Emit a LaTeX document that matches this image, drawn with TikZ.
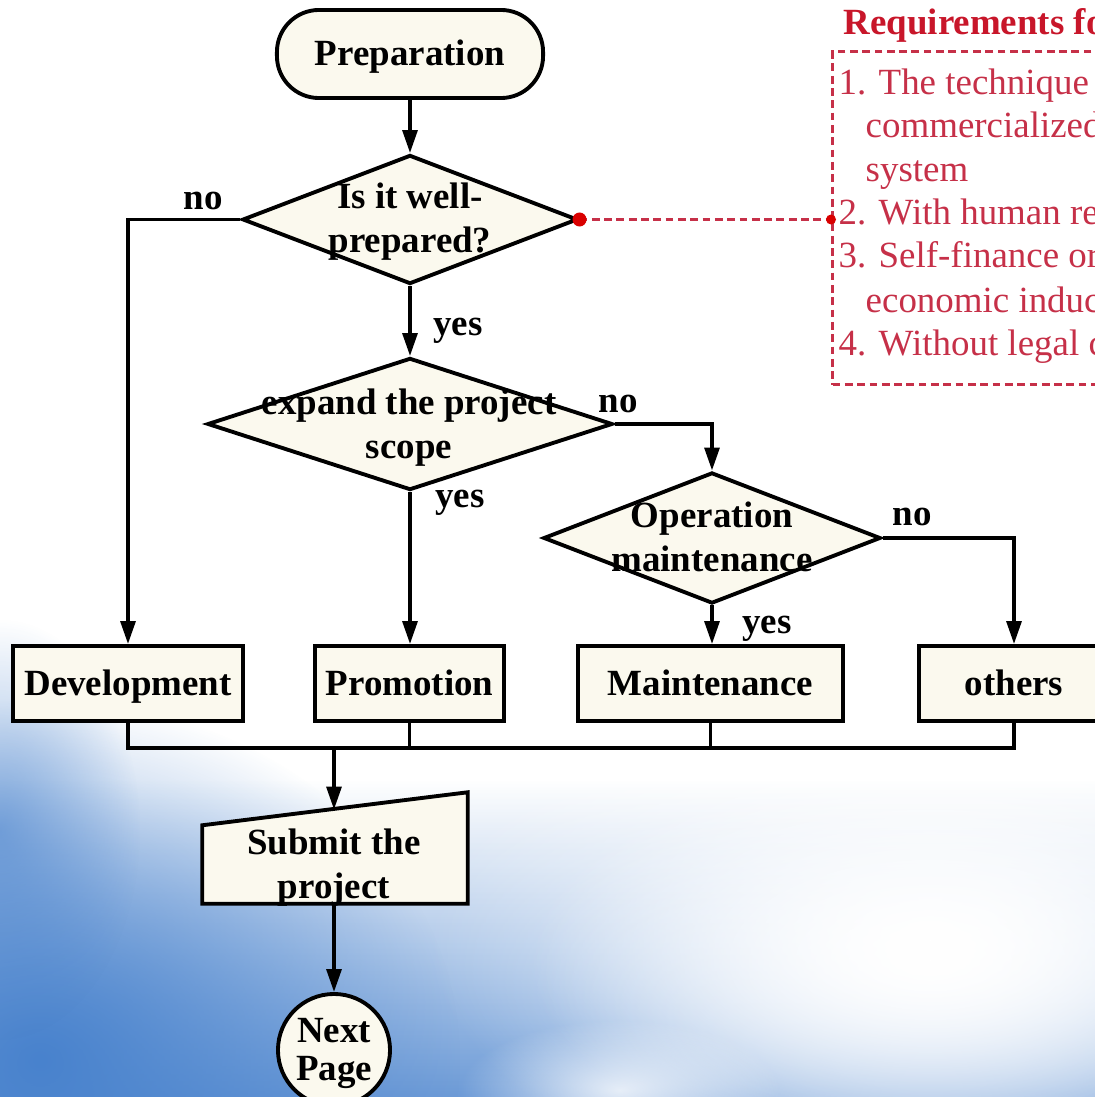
\documentclass[tikz,border=0pt]{standalone}
\usepackage{fontspec}
\setmainfont{Liberation Serif}
\usetikzlibrary{shapes.geometric,arrows.meta,calc,fadings}
\definecolor{cream}{RGB}{251,249,238}
\definecolor{redT}{RGB}{200,22,42}
\definecolor{redI}{RGB}{198,48,72}
\definecolor{skyb}{RGB}{72,130,205}
\tikzfading[name=myup, top color=transparent!100, bottom color=transparent!0]
\tikzfading[name=myrad, inner color=transparent!0, outer color=transparent!100]
\begin{document}
\begin{tikzpicture}[x=0.01cm,y=-0.01cm,
  font=\fontsize{10.5}{12.5}\selectfont\bfseries,
  ln/.style={line width=1pt, black},
  arr/.style={ln, -{Triangle[length=6.5pt,width=4.2pt]}},
  box/.style={draw, line width=1.1pt, fill=cream, minimum height=0.75cm, inner sep=0, text height=0.66em, text depth=0pt},
  dia/.style={diamond, draw, line width=1.1pt, fill=cream, inner sep=0},
  txt/.style={align=center, inner sep=0},
  lab/.style={inner sep=0},
  req/.style={anchor=base west, inner sep=0, text=redI, font=\fontsize{10.5}{12.5}\selectfont},
  reddash/.style={redI, line width=0.9pt, dash pattern=on 2.2pt off 1.3pt}
]
\useasboundingbox (0,0) rectangle (1095,1097);
\clip (0,0) rectangle (1095,1097);
% background (sky)
\fill[white] (0,0) rectangle (1095,1097);
\fill[skyb, opacity=0.8, path fading=myup] (0,780) rectangle (1095,1097);
\fill[skyb, path fading=myrad] (40,1060) ellipse [x radius=4.2cm, y radius=3.6cm];
\fill[skyb, opacity=0.6, path fading=myrad] (0,830) ellipse [x radius=1.4cm, y radius=2.1cm];
\fill[white, path fading=myrad] (930,940) ellipse [x radius=5cm, y radius=2.6cm];
\fill[white, path fading=myrad] (930,960) ellipse [x radius=4cm, y radius=2cm];
\fill[white, opacity=0.8, path fading=myrad] (620,1090) ellipse [x radius=1.6cm, y radius=0.7cm];

% nodes
\node[box, rounded corners=0.42cm, minimum width=2.66cm, minimum height=0.88cm] (prep) at (410,54) {Preparation};
\node[dia, minimum width=3.35cm, minimum height=1.29cm] (d1) at (410,219.5) {};
\node[txt] (d1t) at (410,222) {Is it well-\\prepared?};
\node[dia, minimum width=4.05cm, minimum height=1.32cm] (d2) at (410,424) {};
\node[txt] (d2t) at (409,428) {expand the project\\scope};
\node[dia, minimum width=3.37cm, minimum height=1.31cm] (d3) at (712,538) {};
\node[txt] (d3t) at (712,537) {Operation\\maintenance};

\node[box, minimum width=2.30cm] (dev) at (128,683.5) {Development};
\node[box, minimum width=1.89cm] (pro) at (409.5,683.5) {Promotion};
\node[box, minimum width=2.65cm] (mai) at (710.5,683.5) {Maintenance};
\node[box, minimum width=1.90cm] (oth) at (1014,683.5) {others};

% labels
\node[lab] (l1) at (203,201) {no};
\node[lab] (l2) at (458,331) {yes};
\node[lab] (l3) at (618,404) {no};
\node[lab] (l4) at (460,503) {yes};
\node[lab] (l5) at (912,517) {no};
\node[lab] (l6) at (767,629) {yes};

% connectors
\draw[arr] (prep) -- (d1);
\draw[arr] (d1) -- (d2);
\draw[arr] (d1.west) -| (dev.north);
\draw[arr] (d2.south) -- (d2.south |- pro.north);
\draw[arr] (d2.east) -| (d3.north);
\draw[arr] (d3.east) -| (oth.north);
\draw[arr] (d3.south) -- (d3.south |- mai.north);

\coordinate (bus) at (0,748);
\draw[ln] (dev.south) -- (dev.south |- bus) -- (oth.south |- bus) -- (oth.south);
\draw[ln] (pro.south) -- (pro.south |- bus);
\draw[ln] (mai.south) -- (mai.south |- bus);

% submit
\node[minimum width=2.64cm, minimum height=1.10cm, inner sep=0] (sub) at (335,848) {};
\draw[line width=1.1pt, fill=cream] (sub.south west) -- (sub.south east) -- (sub.north east) -- ($(sub.north west)+(0,-0.33cm)$) -- cycle;
\coordinate (subtop) at (334,809.6);
\draw[arr] (subtop |- bus) -- (subtop);
\node[txt] (subt) at (334,868) {Submit the\\project};

\node[circle, draw, fill=cream, line width=1.1pt, minimum size=1.12cm, inner sep=0] (np) at (334,1050) {};
\node[txt, font=\fontsize{10.5}{10.8}\selectfont\bfseries] (npt) at (334,1053) {Next\\Page};
\draw[arr] (sub.south -| subtop) -- (np.north);

% requirements
\node[anchor=base west, inner sep=0, text=redT] (reqt) at (843,35) {Requirements for};
\node[draw=redI, line width=0.9pt, dash pattern=on 2.2pt off 1.3pt, anchor=north west, minimum width=2.95cm, minimum height=3.33cm, inner sep=0] (reqbox) at (831,50) {};
\node[req] (r1) at (838,95) {1. The technique is};
\node[req] (r2) at (865,138) {commercialized};
\node[req] (r3) at (865,182) {system};
\node[req] (r4) at (838,225) {2. With human resources};
\node[req] (r5) at (838,268) {3. Self-finance or};
\node[req] (r6) at (865,312) {economic inducement};
\node[req] (r7) at (838,355) {4. Without legal conflict};
\draw[reddash] (d1.east) -- (reqbox.west |- d1.east);
\fill[red!85!black] (d1.east) circle (0.07cm);
\fill[red!85!black] (reqbox.west |- d1.east) circle (0.05cm);
\end{tikzpicture}
\end{document}
